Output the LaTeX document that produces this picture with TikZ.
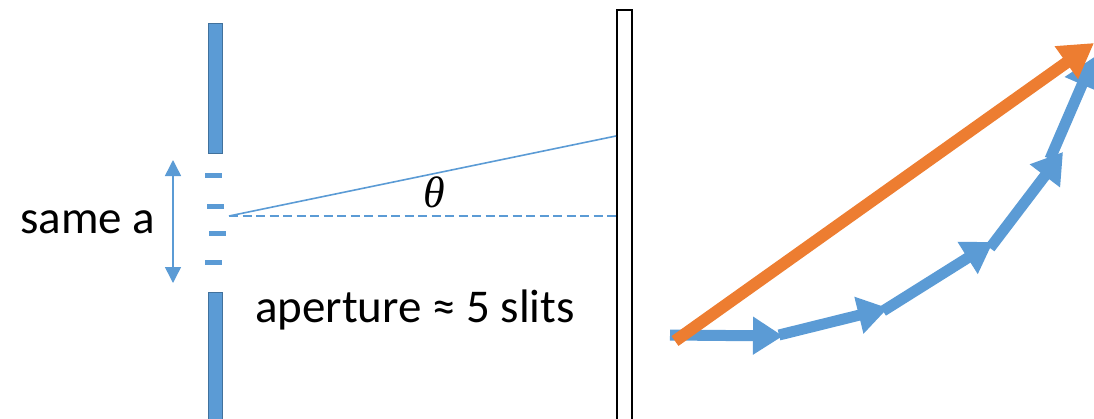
\documentclass[tikz,border=0pt]{standalone}
\usepackage{fontspec}
\setmainfont{Carlito}
\newfontfamily\grkfont{Liberation Serif}
\usetikzlibrary{arrows.meta}
\definecolor{pblue}{HTML}{5B9BD5}
\definecolor{pbluedark}{HTML}{41719C}
\definecolor{porange}{HTML}{ED7D31}
\tikzset{
  barrier/.style={fill=pblue,draw=pbluedark,line width=1pt},
  slitmark/.style={pblue,line width=5pt},
  screenbox/.style={fill=white,draw=black,line width=2pt},
  ray/.style={pblue,line width=1.6pt},
  phasor/.style={pblue,line width=11pt,-{Triangle[length=30pt,width=36pt]}},
  resultant/.style={porange,line width=12pt,-{Triangle[length=34pt,width=38pt]}},
  lbl/.style={font=\fontsize{47}{56}\selectfont,inner sep=0pt},
}
\begin{document}
\begin{tikzpicture}[x=1pt,y=-1pt]
\useasboundingbox (0,0) rectangle (1094,418);
% barriers
\draw[barrier] (208,23) rectangle (222,153);
\draw[barrier] (208,292) rectangle (222,430);
% slits
\draw[slitmark] (205,175) -- (222,175);
\draw[slitmark] (207,206) -- (224,206);
\draw[slitmark] (209,233) -- (226,233);
\draw[slitmark] (205,262) -- (222,262);
% screen
\draw[screenbox] (617,10) rectangle (632,430);
% size arrow
\coordinate (st) at (173,160);
\coordinate (sb) at (173,283);
\draw[pblue,line width=1.5pt,{Triangle[length=16pt,width=16pt]}-{Triangle[length=16pt,width=16pt]}] (st) -- (sb);
\node[lbl,anchor=base] (same) at (88,233) {same a};
% rays
\coordinate (src) at (229,216);
\coordinate (hit) at (616,136);
\coordinate (axis) at (616,216);
\draw[ray] (src) -- (hit);
\draw[ray,line width=1.3pt,dash pattern=on 9pt off 4.5pt] (src) -- (axis);
\node[inner sep=0pt,font=\grkfont\itshape\fontsize{44}{50}\selectfont] (theta) at (434,192) {θ};
\node[lbl,anchor=base] (aperture) at (415,322) {aperture ≈ 5 slits};
% phasors
\coordinate (p0) at (670,335);
\coordinate (p1) at (783,336);
\coordinate (q1) at (779,335);
\coordinate (p2) at (888,308);
\coordinate (q2) at (883,311);
\coordinate (p3) at (993,242);
\coordinate (q3) at (990,248);
\coordinate (p4) at (1063,152);
\coordinate (q4) at (1050,159);
\coordinate (p5) at (1094,57);
\draw[phasor] (p0) -- (p1);
\draw[phasor] (q1) -- (p2);
\draw[phasor] (q2) -- (p3);
\draw[phasor] (q3) -- (p4);
\draw[phasor] (q4) -- (p5);
\coordinate (r0) at (675,341);
\coordinate (r1) at (1094,43);
\draw[resultant] (r0) -- (r1);
\end{tikzpicture}
\end{document}
